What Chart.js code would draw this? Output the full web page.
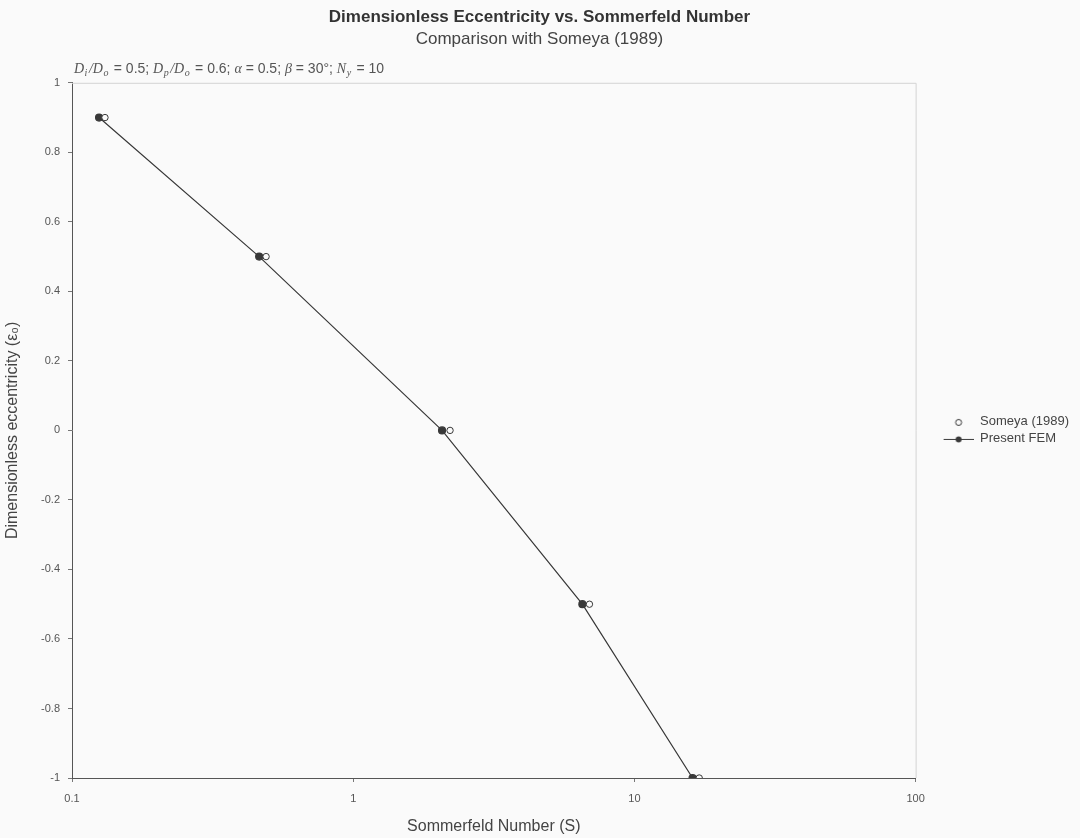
<!DOCTYPE html>
<html>
<head>
<meta charset="utf-8">
<script src="https://cdn.jsdelivr.net/npm/chart.js@4"></script>
<style>
  html, body { margin: 0; padding: 0; background: #fafafa; }
  #wrap { width: 1080px; height: 838px; }
</style>
</head>
<body>
<div id="wrap"><canvas id="c" width="1080" height="838"></canvas></div>
<script>
// Sommerfeld number vs. dimensionless eccentricity
const sommerfeldSomeya   = [0.131, 0.49, 2.21, 6.92, 17.0];
const eccentricitySomeya = [0.9, 0.5, 0, -0.5, -1];
const sommerfeldFEM      = [0.1248, 0.463, 2.07, 6.53, 16.1];
const eccentricityFEM    = [0.9, 0.5, 0, -0.5, -1];
const xTickValues        = [0.1, 1, 10, 100];
const seriesNames        = ['Someya (1989)', 'Present FEM'];

const FONT = '"Liberation Sans", Arial, sans-serif';
const SERIF = '"Liberation Serif", "Times New Roman", serif';
const INK = '#383838';
const PAPER = '#fafafa';

function toPoints(xs, ys) { return xs.map((x, i) => ({ x: x, y: ys[i] })); }

// legend symbols: transparent lead-in, then a 30px sample
function legendSymbol(withLine, filled) {
  const cv = document.createElement('canvas');
  cv.width = 54; cv.height = 10;
  const g = cv.getContext('2d');
  const x0 = 24, cx = x0 + 15, cy = 5;
  if (withLine) {
    g.strokeStyle = INK; g.lineWidth = 1;
    g.beginPath(); g.moveTo(x0, cy + 0.5); g.lineTo(x0 + 30, cy + 0.5); g.stroke();
  }
  g.beginPath(); g.arc(cx, cy + 0.5, 3, 0, Math.PI * 2);
  if (filled) { g.fillStyle = INK; g.fill(); }
  else { g.fillStyle = PAPER; g.fill(); g.strokeStyle = INK; g.lineWidth = 1; g.stroke(); }
  return cv;
}
const symSomeya = legendSymbol(false, false);
const symFEM = legendSymbol(true, true);

const framePlugin = {
  id: 'frame',
  beforeDraw(chart) {
    const { ctx } = chart;
    ctx.save();
    ctx.fillStyle = PAPER;
    ctx.fillRect(0, 0, chart.width, chart.height);
    ctx.restore();
  },
  beforeDatasetsDraw(chart) {
    const { ctx, chartArea: a } = chart;
    ctx.save();
    ctx.strokeStyle = '#d4d4d4';
    ctx.lineWidth = 1;
    ctx.beginPath();
    ctx.moveTo(a.left, a.top + 0.5);
    ctx.lineTo(a.right + 0.5, a.top + 0.5);
    ctx.lineTo(a.right + 0.5, a.bottom);
    ctx.stroke();
    ctx.restore();
  },
  afterDraw(chart) {
    // parameter note above the plot: D_i/D_o = 0.5; D_p/D_o = 0.6; α = 0.5; β = 30°; N_y = 10
    const { ctx, chartArea: a } = chart;
    const parts = [
      ['D', 'i', 1], ['/', null, 1], ['D', 'o', 1], [' = 0.5; '],
      ['D', 'p', 1], ['/', null, 1], ['D', 'o', 1], [' = 0.6; '],
      ['α', null, 1], [' = 0.5; '], ['β', null, 1], [' = 30°; '], ['N', 'y', 1], [' = 10']
    ];
    ctx.save();
    ctx.fillStyle = '#555';
    ctx.textBaseline = 'alphabetic';
    let x = a.left + 2;
    const y = a.top - 10;
    parts.forEach(p => {
      ctx.font = p[2] ? 'italic 14px ' + SERIF : '14px ' + FONT;
      ctx.fillText(p[0], x, y);
      x += ctx.measureText(p[0]).width;
      if (p[1]) {
        ctx.font = 'italic 10px ' + SERIF;
        ctx.fillText(p[1], x + 0.5, y + 3);
        x += ctx.measureText(p[1]).width + 2;
      }
    });
    ctx.restore();
  }
};

new Chart(document.getElementById('c'), {
  type: 'scatter',
  data: {
    datasets: [
      {
        label: seriesNames[0],
        data: toPoints(sommerfeldSomeya, eccentricitySomeya),
        showLine: false,
        pointStyle: 'circle',
        pointRadius: 3.2,
        pointBorderWidth: 1,
        pointBackgroundColor: PAPER,
        pointBorderColor: INK,
        order: 1
      },
      {
        label: seriesNames[1],
        data: toPoints(sommerfeldFEM, eccentricityFEM),
        showLine: true,
        borderColor: INK,
        borderWidth: 1.2,
        pointStyle: 'circle',
        pointRadius: 3.5,
        pointBackgroundColor: INK,
        pointBorderColor: INK,
        order: 2
      }
    ]
  },
  options: {
    responsive: false,
    animation: false,
    devicePixelRatio: 1,
    layout: { padding: { top: 6, left: 0, right: 1, bottom: 0 } },
    plugins: {
      title: {
        display: true,
        text: 'Dimensionless Eccentricity vs. Sommerfeld Number',
        color: '#333',
        font: { family: FONT, size: 17, weight: 'bold' },
        padding: { top: 1, bottom: 2 }
      },
      subtitle: {
        display: true,
        text: 'Comparison with Someya (1989)',
        color: '#444',
        font: { family: FONT, size: 17 },
        padding: { top: 0, bottom: 33 }
      },
      legend: {
        position: 'right',
        align: 'center',
        fullSize: false,
        labels: {
          usePointStyle: true,
          pointStyleWidth: 54,
          boxHeight: 10,
          color: '#444',
          font: { family: FONT, size: 13 },
          padding: 4,
          generateLabels() {
            return [
              { text: seriesNames[0], pointStyle: symSomeya, fontColor: '#444', lineWidth: 0, strokeStyle: 'transparent', fillStyle: 'transparent', datasetIndex: 0 },
              { text: seriesNames[1], pointStyle: symFEM, fontColor: '#444', lineWidth: 0, strokeStyle: 'transparent', fillStyle: 'transparent', datasetIndex: 1 }
            ];
          }
        }
      },
      tooltip: { enabled: false }
    },
    scales: {
      x: {
        type: 'logarithmic',
        min: 0.1,
        max: 100,
        afterBuildTicks(scale) { scale.ticks = xTickValues.map(v => ({ value: v })); },
        ticks: {
          color: '#555',
          font: { family: FONT, size: 11 },
          padding: 10,
          autoSkip: false,
          maxRotation: 0,
          callback: v => String(v)
        },
        grid: { drawOnChartArea: false, drawTicks: true, tickLength: 4, color: '#777' },
        border: { color: '#555', width: 1 },
        title: {
          display: true,
          text: 'Sommerfeld Number (S)',
          color: '#444',
          font: { family: FONT, size: 16 },
          padding: { top: 4, bottom: 2 }
        },
        afterFit(scale) { scale.height = 60; }
      },
      y: {
        min: -1,
        max: 1,
        ticks: {
          stepSize: 0.2,
          color: '#555',
          font: { family: FONT, size: 11 },
          padding: 8,
          callback: v => String(Math.round(v * 10) / 10)
        },
        grid: { drawOnChartArea: false, drawTicks: true, tickLength: 4, color: '#777' },
        border: { color: '#555', width: 1 },
        title: {
          display: true,
          text: 'Dimensionless eccentricity (ε₀)',
          color: '#444',
          font: { family: FONT, size: 16 },
          padding: { top: 3, bottom: 4 }
        },
        afterFit(scale) { scale.width = 72; }
      }
    }
  },
  plugins: [framePlugin]
});
</script>
</body>
</html>
